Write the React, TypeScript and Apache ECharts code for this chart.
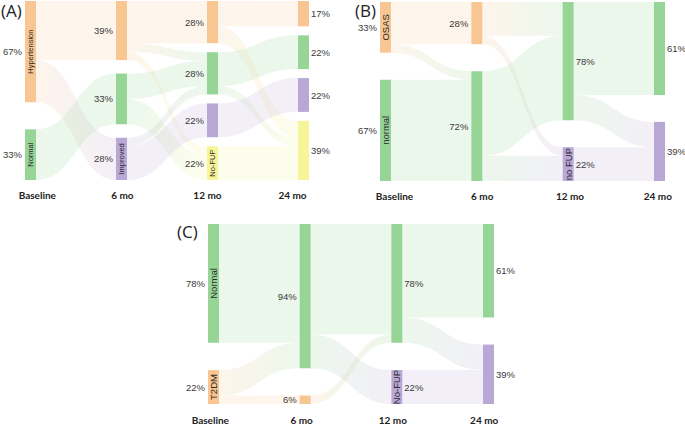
import React, { useEffect, useRef } from "react";
import * as echarts from "echarts";

const stages = ["Baseline", "6 mo", "12 mo", "24 mo"];

// [node id, stage index, state, percent label, name written inside the node]
type NodeDef = [string, number, string, string, string];
// [source id, target id, patients]
type LinkDef = [string, string, number];

const nodesA: NodeDef[] = [
  ["A0_HT", 0, "Hypertension", "67%", "Hypertension"],
  ["A0_N", 0, "Normal", "33%", "Normal"],
  ["A1_HT", 1, "Hypertension", "39%", ""],
  ["A1_N", 1, "Normal", "33%", ""],
  ["A1_I", 1, "Improved", "28%", "Improved"],
  ["A2_HT", 2, "Hypertension", "28%", ""],
  ["A2_N", 2, "Normal", "28%", ""],
  ["A2_I", 2, "Improved", "22%", ""],
  ["A2_F", 2, "NoFUP", "22%", "No-FUP"],
  ["A3_HT", 3, "Hypertension", "17%", ""],
  ["A3_N", 3, "Normal", "22%", ""],
  ["A3_I", 3, "Improved", "22%", ""],
  ["A3_F", 3, "NoFUP", "39%", ""],
];
const linksA: LinkDef[] = [
  ["A0_HT", "A1_HT", 7],
  ["A0_HT", "A1_I", 5],
  ["A0_N", "A1_N", 6],
  ["A1_HT", "A2_HT", 5],
  ["A1_HT", "A2_N", 1],
  ["A1_HT", "A2_F", 1],
  ["A1_N", "A2_N", 3],
  ["A1_N", "A2_F", 3],
  ["A1_I", "A2_N", 1],
  ["A1_I", "A2_I", 4],
  ["A2_HT", "A3_HT", 3],
  ["A2_HT", "A3_F", 2],
  ["A2_N", "A3_N", 4],
  ["A2_N", "A3_F", 1],
  ["A2_I", "A3_I", 4],
  ["A2_F", "A3_F", 4],
];

const nodesB: NodeDef[] = [
  ["B0_O", 0, "OSAS", "33%", "OSAS"],
  ["B0_N", 0, "Normal", "67%", "normal"],
  ["B1_O", 1, "OSAS", "28%", ""],
  ["B1_N", 1, "Normal", "72%", ""],
  ["B2_N", 2, "Normal", "78%", ""],
  ["B2_F", 2, "NoFUP", "22%", "no FUP"],
  ["B3_N", 3, "Normal", "61%", ""],
  ["B3_F", 3, "NoFUP", "39%", ""],
];
const linksB: LinkDef[] = [
  ["B0_O", "B1_O", 5],
  ["B0_O", "B1_N", 1],
  ["B0_N", "B1_N", 12],
  ["B1_O", "B2_N", 4],
  ["B1_O", "B2_F", 1],
  ["B1_N", "B2_N", 10],
  ["B1_N", "B2_F", 3],
  ["B2_N", "B3_N", 11],
  ["B2_N", "B3_F", 3],
  ["B2_F", "B3_F", 4],
];

const nodesC: NodeDef[] = [
  ["C0_N", 0, "Normal", "78%", "Normal"],
  ["C0_T", 0, "T2DM", "22%", "T2DM"],
  ["C1_N", 1, "Normal", "94%", ""],
  ["C1_T", 1, "T2DM", "6%", ""],
  ["C2_N", 2, "Normal", "78%", ""],
  ["C2_F", 2, "NoFUP", "22%", "No-FUP"],
  ["C3_N", 3, "Normal", "61%", ""],
  ["C3_F", 3, "NoFUP", "39%", ""],
];
const linksC: LinkDef[] = [
  ["C0_N", "C1_N", 14],
  ["C0_T", "C1_N", 3],
  ["C0_T", "C1_T", 1],
  ["C1_N", "C2_N", 13],
  ["C1_N", "C2_F", 4],
  ["C1_T", "C2_N", 1],
  ["C2_N", "C3_N", 11],
  ["C2_N", "C3_F", 3],
  ["C2_F", "C3_F", 4],
];

const ORANGE = "#F8C692";
const GREEN = "#97D597";
const PURPLE = "#B9A7D5";
const YELLOW = "#F6F59A";

const paletteA: Record<string, string> = { Hypertension: ORANGE, Normal: GREEN, Improved: PURPLE, NoFUP: YELLOW };
const paletteB: Record<string, string> = { OSAS: ORANGE, Normal: GREEN, NoFUP: PURPLE };
const paletteC: Record<string, string> = { T2DM: ORANGE, Normal: GREEN, NoFUP: PURPLE };

// empty space (in patient units) shared between the nodes of one column
const GAP_UNITS = 3.2;
const NODE_W = 11;

const PCT_FONT = "Liberation Sans";
const AXIS_FONT = "Lato";

interface Panel {
  title: string;
  titleLeft: number;
  titleTop: number;
  nodes: NodeDef[];
  links: LinkDef[];
  palette: Record<string, string>;
  box: { left: number; top: number; width: number; height: number };
  axisLeft: number;
  axisWidth: number;
  axisMargin: number;
  rightStages: boolean[];
  nameSize: number;
}

const panels: Panel[] = [
  {
    title: "(A)", titleLeft: 1, titleTop: 2,
    nodes: nodesA, links: linksA, palette: paletteA,
    box: { left: 25, top: 1, width: 284, height: 179 },
    axisLeft: 37.3, axisWidth: 255.2, axisMargin: 10,
    rightStages: [false, false, false, true], nameSize: 7.5,
  },
  {
    title: "(B)", titleLeft: 355, titleTop: 2,
    nodes: nodesB, links: linksB, palette: paletteB,
    box: { left: 380, top: 2, width: 285, height: 179 },
    axisLeft: 394.5, axisWidth: 263.3, axisMargin: 10,
    rightStages: [false, false, true, true], nameSize: 9.5,
  },
  {
    title: "(C)", titleLeft: 177, titleTop: 223,
    nodes: nodesC, links: linksC, palette: paletteC,
    box: { left: 208, top: 224, width: 286, height: 180 },
    axisLeft: 210.3, axisWidth: 273.9, axisMargin: 11,
    rightStages: [false, false, true, true], nameSize: 9.5,
  },
];

function buildNodes(p: Panel, overlay: boolean) {
  const data: any[] = [];
  for (let s = 0; s < stages.length; s++) {
    const col = p.nodes.filter((n) => n[1] === s);
    col.forEach((n, i) => {
      if (i > 0) {
        data.push({
          name: n[0] + "_gap",
          depth: s,
          value: GAP_UNITS / (col.length - 1),
          itemStyle: { color: "rgba(0,0,0,0)", opacity: 0, borderWidth: 0 },
          label: { show: false },
        });
      }
      if (overlay) {
        data.push({
          name: n[0],
          depth: s,
          itemStyle: { color: "rgba(0,0,0,0)", opacity: 0, borderWidth: 0 },
          label: n[4]
            ? {
                show: true,
                formatter: n[4],
                position: "inside",
                rotate: 90,
                fontSize: p.nameSize,
                fontFamily: PCT_FONT,
                color: "#2a2a2a",
              }
            : { show: false },
        });
      } else {
        const right = p.rightStages[s];
        data.push({
          name: n[0],
          depth: s,
          itemStyle: { color: p.palette[n[2]], borderWidth: 0 },
          label: {
            show: true,
            formatter: n[3],
            position: right ? "right" : "left",
            distance: right ? 2 : 3,
            fontSize: 9.5,
            fontFamily: PCT_FONT,
            color: "#3a3a3a",
          },
        });
      }
    });
  }
  return data;
}

function buildOption() {
  const series: any[] = [];
  const grid: any[] = [];
  const xAxis: any[] = [];
  const yAxis: any[] = [];
  const title: any[] = [];
  panels.forEach((p, idx) => {
    const links = p.links.map((l) => ({ source: l[0], target: l[1], value: l[2] }));
    const common = {
      type: "sankey",
      left: p.box.left,
      top: p.box.top,
      width: p.box.width,
      height: p.box.height,
      nodeWidth: NODE_W,
      nodeGap: 0,
      layoutIterations: 0,
      nodeAlign: "left",
      draggable: false,
      silent: true,
      emphasis: { disabled: true },
    };
    series.push({
      ...common,
      data: buildNodes(p, false),
      links,
      lineStyle: { color: "gradient", opacity: 0.18, curveness: 0.5 },
      itemStyle: { borderWidth: 0 },
    });
    series.push({
      ...common,
      z: 5,
      data: buildNodes(p, true),
      links: links.map((l) => ({ ...l })),
      lineStyle: { color: "gradient", opacity: 0, curveness: 0.5 },
      itemStyle: { borderWidth: 0, opacity: 0 },
    });
    grid.push({
      left: p.axisLeft,
      width: p.axisWidth,
      top: p.box.top,
      height: p.box.height,
      containLabel: false,
    });
    xAxis.push({
      gridIndex: idx,
      type: "category",
      boundaryGap: false,
      data: stages,
      axisLine: { show: false },
      axisTick: { show: false },
      splitLine: { show: false },
      axisLabel: {
        margin: p.axisMargin,
        fontSize: 10,
        fontWeight: "bold",
        fontFamily: AXIS_FONT,
        color: "#222",
        interval: 0,
      },
    });
    yAxis.push({ gridIndex: idx, type: "value", show: false });
    title.push({
      text: p.title,
      left: p.titleLeft,
      top: p.titleTop,
      padding: 0,
      textStyle: { fontSize: 17, fontWeight: "normal", fontFamily: "Open Sans", color: "#222" },
    });
  });
  return { animation: false, backgroundColor: "#ffffff", title, grid, xAxis, yAxis, series };
}

export default function App() {
  const ref = useRef<HTMLDivElement>(null);
  useEffect(() => {
    if (!ref.current) return;
    const chart = echarts.init(ref.current, undefined, { renderer: "svg" });
    chart.setOption(buildOption() as any);
    return () => chart.dispose();
  }, []);
  return (
    <div
      ref={ref}
      style={{ position: "fixed", left: 0, top: 0, width: 685, height: 426, background: "#fff" }}
    />
  );
}
